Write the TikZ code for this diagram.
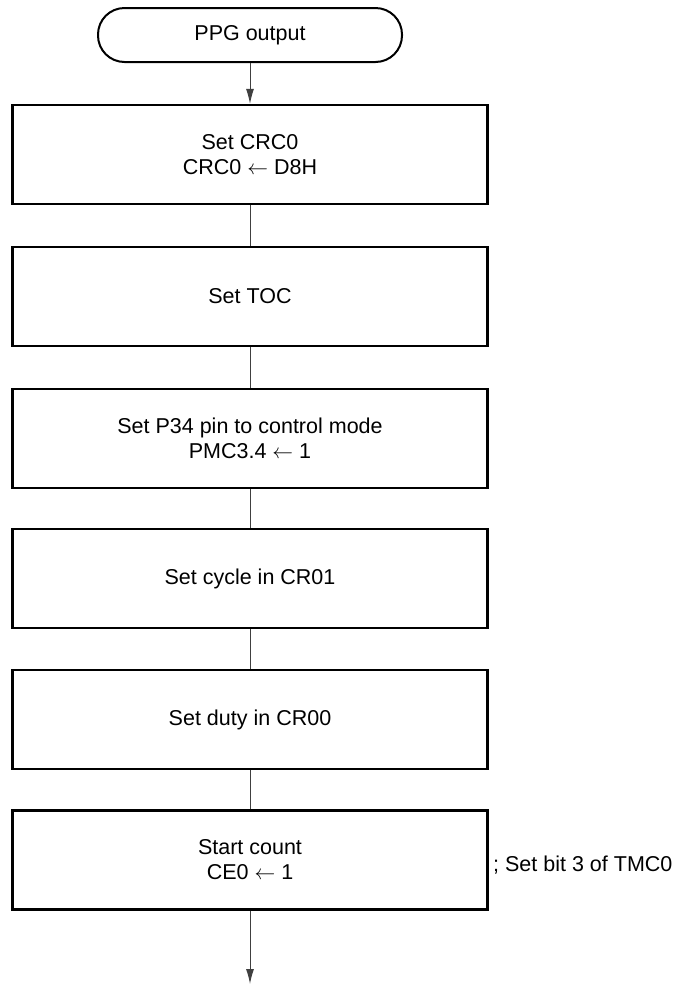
\documentclass[tikz,border=0pt]{standalone}
\usepackage{fontspec}
\setmainfont{Liberation Sans}
\usetikzlibrary{arrows.meta}
\begin{document}
\begin{tikzpicture}[x=1pt,y=-1pt,
  every node/.style={font=\fontsize{21.5}{25}\selectfont},
  stepbox/.style={draw=black,line width=2.2pt,minimum width=475pt,minimum height=99pt,inner sep=0pt,align=center},
  termbox/.style={draw=black,line width=2pt,rounded corners=26.5pt,minimum width=304pt,minimum height=54pt,inner sep=0pt},
  conn/.style={draw=black!75,line width=1pt},
  arr/.style={conn,-{Latex[length=15pt,width=8pt]}}]
\useasboundingbox (0,0) rectangle (684,989);
\node[termbox] (t) at (250,35) {PPG output};
\node[stepbox] (b1) at (250,154.5) {Set CRC0\\CRC0 $\leftarrow$ D8H};
\node[stepbox] (b2) at (250,296.5) {Set TOC};
\node[stepbox] (b3) at (250,438.5) {Set P34 pin to control mode\\PMC3.4 $\leftarrow$ 1};
\node[stepbox] (b4) at (250,578.5) {Set cycle in CR01};
\node[stepbox] (b5) at (250,719.5) {Set duty in CR00};
\node[stepbox] (b6) at (250,860) {Start count\\CE0 $\leftarrow$ 1};
\coordinate (end) at (250,984);
\node[anchor=west,inner sep=0pt] (c6) at (493,865) {; Set bit 3 of TMC0};
\draw[arr] (t.south) -- (b1.north);
\draw[conn] (b1.south) -- (b2.north);
\draw[conn] (b2.south) -- (b3.north);
\draw[conn] (b3.south) -- (b4.north);
\draw[conn] (b4.south) -- (b5.north);
\draw[conn] (b5.south) -- (b6.north);
\draw[arr] (b6.south) -- (end);
\end{tikzpicture}
\end{document}
